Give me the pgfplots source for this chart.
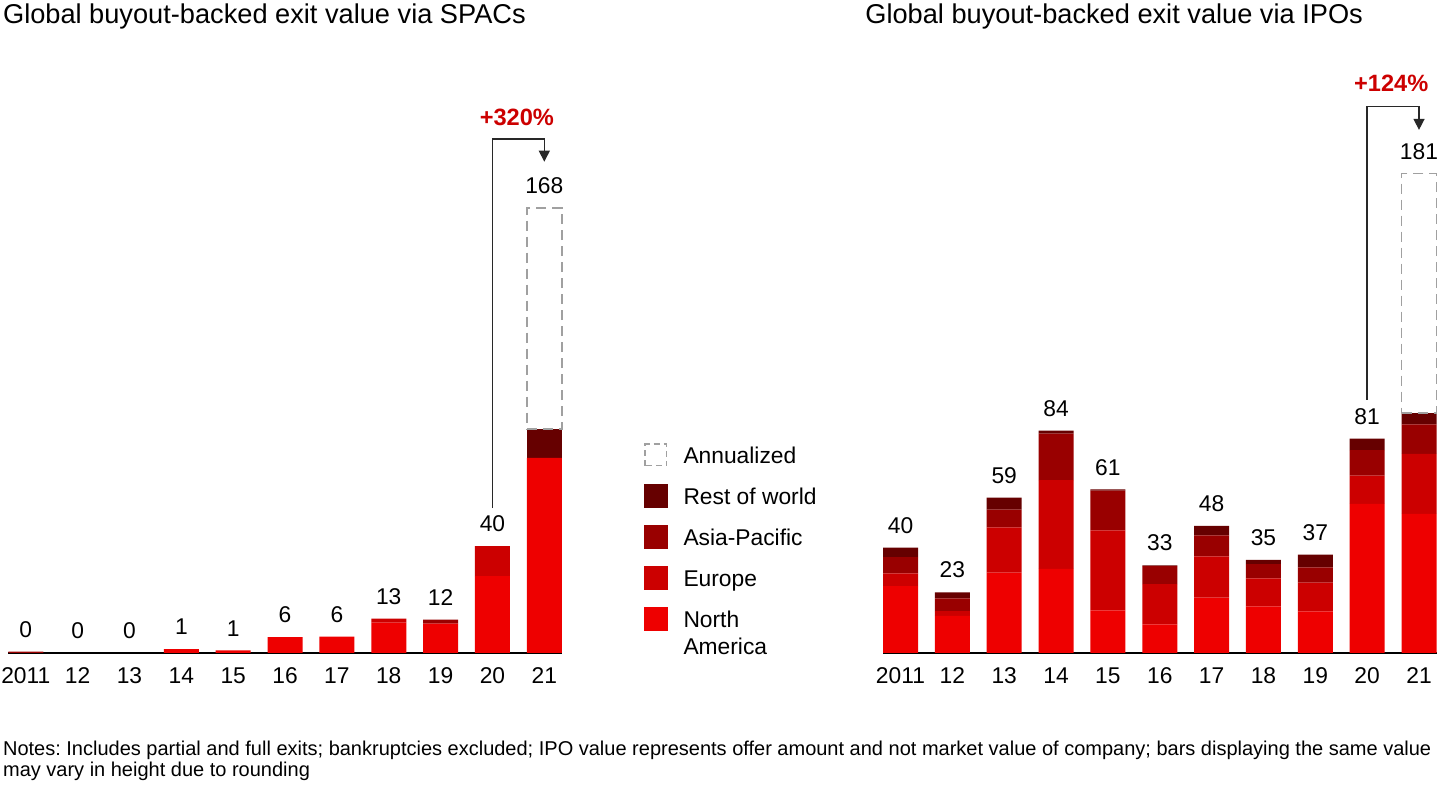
\documentclass[border=0pt]{standalone}
\usepackage{fontspec}
\setmainfont{Liberation Sans}
\usepackage{pgfplots}
\pgfplotsset{compat=1.18}
\usepackage{pgfplotstable}
\usetikzlibrary{arrows.meta}
\frenchspacing

\definecolor{cNA}{RGB}{238,0,0}
\definecolor{cEU}{RGB}{204,0,0}
\definecolor{cAP}{RGB}{153,0,0}
\definecolor{cRW}{RGB}{102,0,0}
\definecolor{cAnn}{RGB}{160,160,160}
\definecolor{cPct}{RGB}{204,0,0}
\definecolor{cArr}{RGB}{40,40,40}

% SPACs: regional values, total (top of label) and label
\pgfplotstableread{
x na eu ap rw top lab
0 0 0 0.5 0 0.5 0
1 0 0 0 0 0 0
2 0 0 0 0 0 0
3 1.5 0 0 0 1.5 1
4 1.0 0 0 0 1.0 1
5 6.0 0 0 0 6.0 6
6 6.2 0 0 0 6.2 6
7 11.5 1.5 0 0 13.0 13
8 11.1 0 1.5 0 12.6 12
9 29.0 11.3 0 0 40.3 40
10 73.6 0 0 10.9 168 168
}\spac

% IPOs
\pgfplotstableread{
x na eu ap rw top lab
0 25.2 4.8 6.2 3.6 39.8 40
1 14.0 1.8 4.8 2.3 22.9 23
2 30.3 17.1 6.7 4.5 58.6 59
3 31.7 33.5 17.6 1.1 83.9 84
4 16.1 30.2 15.0 0.4 61.7 61
5 10.8 15.2 6.8 0.3 33.1 33
6 20.9 15.6 7.9 3.6 48.0 48
7 17.6 10.6 5.3 1.6 35.1 35
8 15.7 10.9 5.7 4.8 37.1 37
9 56.3 10.6 9.7 4.3 80.9 81
10 52.5 22.6 11.2 4.2 181 181
}\ipo

\newcommand\lblfont{\fontsize{11.4}{13.5}\selectfont}

\pgfplotsset{
  geom/.style={
    scale only axis, width=276.75pt, height=291.5pt,
    xmin=-0.3375, xmax=10.3375, ymin=0, ymax=220,
    enlargelimits=false, clip=false,
  },
  barbase/.style={geom, ybar stacked, bar width=17.5pt},
  mainaxis/.style={
    barbase,
    axis x line*=bottom, axis y line=none,
    x axis line style={-, black, line width=1.25pt},
    xtick={0,...,10}, xticklabels={2011,12,13,14,15,16,17,18,19,20,21},
    major tick length=0pt,
    xticklabel style={font=\lblfont, anchor=north, inner sep=0pt, yshift=-7pt},
    ytick=\empty,
  },
  overaxis/.style={barbase, hide axis},
  labaxis/.style={geom, hide axis},
  lblplot/.style={draw=none, mark=none, nodes near coords,
    point meta=explicit symbolic,
    every node near coord/.append style={font=\lblfont, inner sep=0pt, yshift=6.85pt, anchor=south}},
}

\begin{document}
\begin{tikzpicture}
\useasboundingbox (0,0) rectangle (720pt,393pt);

% ---------- left: SPACs ----------
\begin{axis}[mainaxis, at={(4.15pt,66.5pt)}, anchor=south west,
  legend cell align=left,
  legend style={at={(1.1485,0.3748)}, anchor=north west, draw=none, fill=none,
    inner sep=0pt, outer sep=0pt, row sep=0pt, column sep=7.85pt,
    nodes={font=\lblfont, inner sep=0pt, text height=14.45pt, text depth=6.05pt, anchor=west}}]
\addlegendimage{legend image code/.code={\draw[cAnn, dash pattern=on 3pt off 2pt, line width=0.7pt] (0.35pt,-5.4pt) rectangle (11.15pt,5.4pt);}}
\addlegendentry{Annualized}
\addlegendimage{legend image code/.code={\fill[cRW] (0pt,-5.75pt) rectangle (11.5pt,5.75pt);}}
\addlegendentry{Rest of world}
\addlegendimage{legend image code/.code={\fill[cAP] (0pt,-5.75pt) rectangle (11.5pt,5.75pt);}}
\addlegendentry{Asia-Pacific}
\addlegendimage{legend image code/.code={\fill[cEU] (0pt,-5.75pt) rectangle (11.5pt,5.75pt);}}
\addlegendentry{Europe}
\addlegendimage{legend image code/.code={\fill[cNA] (0pt,-5.75pt) rectangle (11.5pt,5.75pt);}}
\addlegendentry{\begin{tabular}[t]{@{}l@{}}North\\America\end{tabular}}

\addplot[fill=cNA, draw=none, forget plot] table[x=x, y=na]{\spac};
\addplot[fill=cEU, draw=none, forget plot] table[x=x, y=eu]{\spac};
\addplot[fill=cAP, draw=none, forget plot] table[x=x, y=ap]{\spac};
\addplot[fill=cRW, draw=none, forget plot] table[x=x, y=rw]{\spac};

\draw[line width=0.75pt, cArr, -{Triangle[length=5.5pt,width=5.5pt]}]
  (axis cs:9,54.7) |- (axis cs:10,194) -- (axis cs:10,185.4);
\node[font=\bfseries\fontsize{11.8}{14}\selectfont, text=cPct, anchor=base, inner sep=0pt]
  at (axis cs:9.47,199.2) {+320\%};
\end{axis}

\begin{axis}[overaxis, at={(4.15pt,66.5pt)}, anchor=south west]
\addplot[draw=none, fill=none] coordinates {(10,84.5)};
\addplot[draw=cAnn, fill=none, line width=0.8pt, dash pattern=on 5pt off 3pt] coordinates {(10,83.5)};
\end{axis}

\begin{axis}[labaxis, at={(4.15pt,66.5pt)}, anchor=south west]
\addplot[lblplot] table[x=x, y=top, meta=lab]{\spac};
\end{axis}

% ---------- right: IPOs ----------
\begin{axis}[mainaxis, at={(441.5pt,66.5pt)}, anchor=south west]
\addplot[fill=cNA, draw=none, forget plot] table[x=x, y=na]{\ipo};
\addplot[fill=cEU, draw=none, forget plot] table[x=x, y=eu]{\ipo};
\addplot[fill=cAP, draw=none, forget plot] table[x=x, y=ap]{\ipo};
\addplot[fill=cRW, draw=none, forget plot] table[x=x, y=rw]{\ipo};

\draw[line width=0.75pt, cArr, -{Triangle[length=5.5pt,width=5.5pt]}]
  (axis cs:9,95.5) |- (axis cs:10,206.2) -- (axis cs:10,197.4);
\node[font=\bfseries\fontsize{11.8}{14}\selectfont, text=cPct, anchor=base, inner sep=0pt]
  at (axis cs:9.465,211.8) {+124\%};
\end{axis}

\begin{axis}[overaxis, at={(441.5pt,66.5pt)}, anchor=south west]
\addplot[draw=none, fill=none] coordinates {(10,90.5)};
\addplot[draw=cAnn, fill=none, line width=0.8pt, dash pattern=on 5pt off 3pt] coordinates {(10,90.5)};
\end{axis}

\begin{axis}[labaxis, at={(441.5pt,66.5pt)}, anchor=south west]
\addplot[lblplot] table[x=x, y=top, meta=lab]{\ipo};
\end{axis}

% ---------- titles and notes ----------
\node[anchor=base west, inner sep=0pt, font=\fontsize{13.6}{16}\selectfont] at (1.35pt,381pt)
  {Global buyout-backed exit value via SPACs};
\node[anchor=base west, inner sep=0pt, font=\fontsize{13.6}{16}\selectfont] at (432.5pt,381pt)
  {Global buyout-backed exit value via IPOs};
\node[anchor=base west, inner sep=0pt, font=\fontsize{10}{10.5}\selectfont] at (1.35pt,15pt)
  {Notes: Includes partial and full exits; bankruptcies excluded; IPO value represents offer amount and not market value of company; bars displaying the same value};
\node[anchor=base west, inner sep=0pt, font=\fontsize{10}{10.5}\selectfont] at (1.35pt,4.65pt)
  {may vary in height due to rounding};
\end{tikzpicture}
\end{document}
